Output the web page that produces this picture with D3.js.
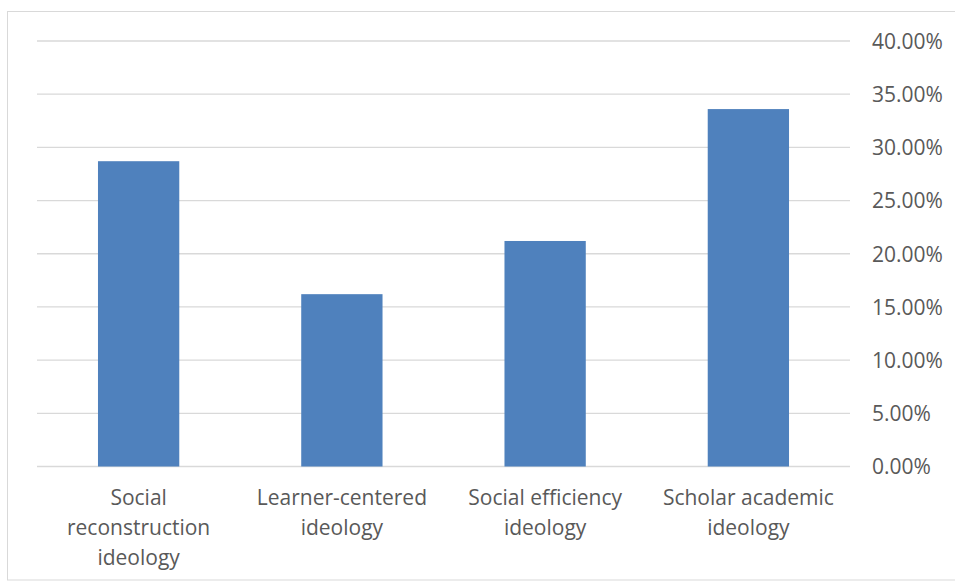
<!DOCTYPE html>
<html><head><meta charset="utf-8">
<script src="https://cdn.jsdelivr.net/npm/d3@7"></script>
<style>body{margin:0;background:#fff}svg{display:block}</style>
</head><body><svg id="c" width="955" height="581"></svg>
<script>
const categories = [["Social","reconstruction","ideology"],["Learner-centered","ideology"],["Social efficiency","ideology"],["Scholar academic","ideology"]];
const values = [0.287, 0.162, 0.212, 0.336];
const ticks = [0,0.05,0.10,0.15,0.20,0.25,0.30,0.35,0.40];

const svg = d3.select("#c");
const font = "'Open Sans', sans-serif";
svg.append("rect").attr("x",7.5).attr("y",11.5).attr("width",960).attr("height",568.5)
  .attr("fill","none").attr("stroke","#d9d9d9").attr("stroke-width",1);

const x = d3.scaleBand().domain(d3.range(categories.length)).range([37,850]).paddingInner(0.6).paddingOuter(0.3);
const y = d3.scaleLinear().domain([0,0.40]).range([466.5,41]);

const yAxis = d3.axisRight(y).tickValues(ticks).tickFormat(d3.format(".2%")).tickSize(0).tickPadding(0);
const ga = svg.append("g").attr("transform","translate(872,0)").call(yAxis);
ga.select(".domain").remove();
ga.selectAll("text").attr("fill","#595959").style("font-family",font).style("font-size","21px").attr("dy","0.35em").attr("x",0);

svg.append("g").selectAll("line").data(ticks).join("line")
  .attr("x1",37).attr("x2",850).attr("y1",d=>y(d)).attr("y2",d=>y(d))
  .attr("stroke","#d9d9d9").attr("stroke-width",1.3);

svg.append("g").selectAll("rect").data(values).join("rect")
  .attr("x",(d,i)=>x(i)).attr("width",x.bandwidth())
  .attr("y",d=>y(d)).attr("height",d=>y(0)-y(d)).attr("fill","#4f81bd");

const lab = svg.append("g").selectAll("text").data(categories).join("text")
  .attr("text-anchor","middle").attr("fill","#595959").style("font-family",font).style("font-size","21px");
lab.each(function(lines,i){
  d3.select(this).selectAll("tspan").data(lines).join("tspan")
    .attr("x",x(i)+x.bandwidth()/2).attr("y",(d,j)=>505+j*30).text(d=>d);
});
</script></body></html>
